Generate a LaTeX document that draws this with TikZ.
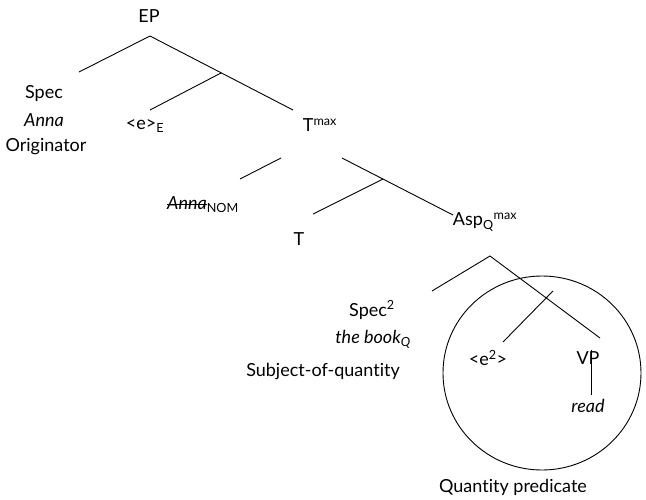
\documentclass[tikz,border=0pt]{standalone}
\usepackage{fontspec}
\setmainfont{Lato}[Ligatures=NoCommon]
\usetikzlibrary{calc}

\newsavebox\strikebox
\newcommand\strikeword[1]{\sbox\strikebox{#1}\rlap{\rule[0.3em]{\wd\strikebox}{0.6pt}}\usebox\strikebox}

\tikzset{
  lbl/.style={inner sep=1pt,font=\fontsize{18}{21}\selectfont},
  branch/.style={line width=0.9pt}
}

\begin{document}
\begin{tikzpicture}[x=1pt,y=-1pt]
  \useasboundingbox (0,0) rectangle (646,499);
  % top level
  \node[lbl] (ep) at (149,16) {EP};
  \coordinate (ep-top) at (150,36);
  \coordinate (ep-l) at (79,72);
  \coordinate (ep-mid) at (221,73);
  \coordinate (ep-r) at (293,110);
  \coordinate (e-top) at (150,110);
  \node[lbl] (spec) at (44,94) {Spec};
  \node[lbl] (anna) at (44,120) {\itshape Anna};
  \node[lbl] (orig) at (46,147) {Originator};
  \node[lbl] (eE) at (145,126) {<e>\textsubscript{E}};
  \node[lbl] (tmax) at (320,125) {T\textsuperscript{max}};
  \draw[branch] (ep-l) -- (ep-top) -- (ep-r);
  \draw[branch] (ep-mid) -- (e-top);
  % T level
  \coordinate (tp-l) at (240,179);
  \coordinate (tp-l2) at (281,158);
  \coordinate (tp-r) at (342,158);
  \coordinate (tp-mid) at (383,179);
  \coordinate (tp-r2) at (453,215);
  \coordinate (t-top) at (313,214);
  \node[lbl] (annanom) at (203,205) {\strikeword{\itshape Anna}\textsubscript{NOM}};
  \node[lbl] (t) at (299,239) {T};
  \node[lbl] (aspmax) at (485,222) {Asp\textsubscript{Q}\textsuperscript{max}};
  \draw[branch] (tp-l) -- (tp-l2);
  \draw[branch] (tp-r) -- (tp-r2);
  \draw[branch] (tp-mid) -- (t-top);
  % Asp level
  \coordinate (asp-top) at (490,256);
  \coordinate (asp-l) at (432,291);
  \coordinate (asp-mid) at (553,291);
  \coordinate (asp-r) at (600,338);
  \coordinate (e2-top) at (503,342);
  \node[lbl] (spec2) at (372,310) {Spec\textsuperscript{2}};
  \node[lbl] (book) at (373,339) {\itshape the book\textsubscript{Q}};
  \node[lbl] (subj) at (323,372) {Subject-of-quantity};
  \node[lbl] (e2) at (488,358) {<e\textsuperscript{2}>};
  \node[lbl] (vp) at (588,358) {VP};
  \coordinate (vp-top) at (591,350);
  \coordinate (vp-bot) at (591,395);
  \node[lbl] (read) at (588,406) {\itshape read};
  \draw[branch] (asp-l) -- (asp-top) -- (asp-r);
  \draw[branch] (asp-mid) -- (e2-top);
  \draw[branch] (vp-top) -- (vp-bot);
  \draw[branch] (542,373) ellipse (99 and 97);
  \node[lbl] (qpred) at (513,487) {Quantity predicate};
\end{tikzpicture}
\end{document}
